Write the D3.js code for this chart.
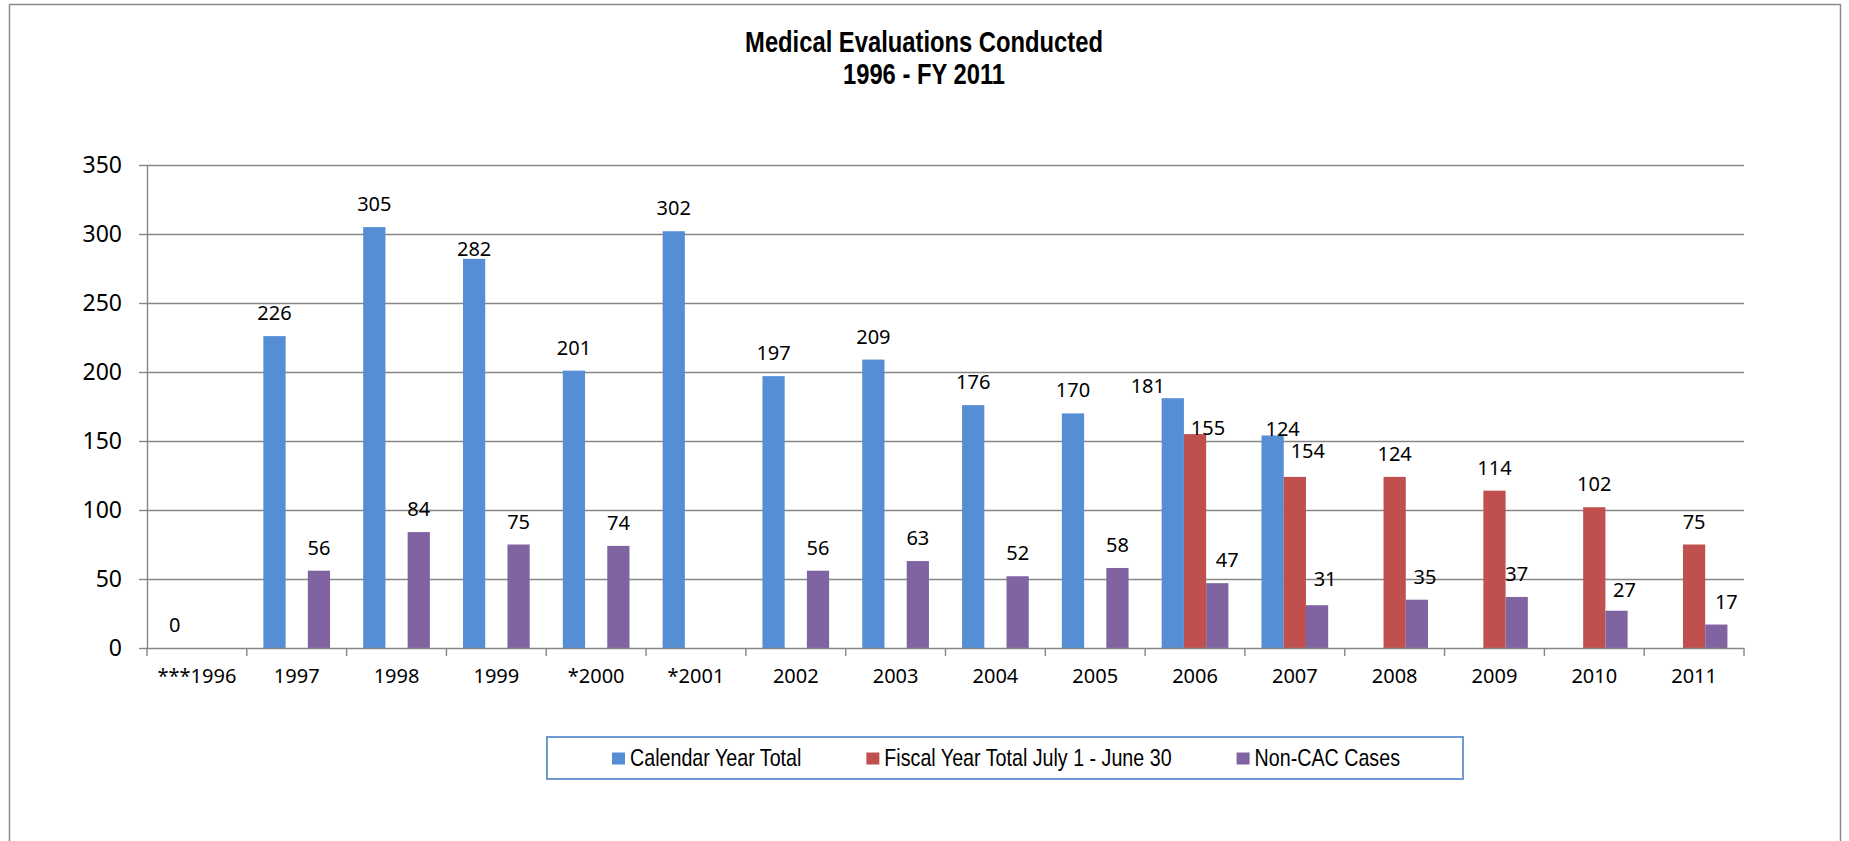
<!DOCTYPE html>
<html>
<head>
<meta charset="utf-8">
<script src="https://cdn.jsdelivr.net/npm/d3@7/dist/d3.min.js"></script>
<style>
  html, body { margin: 0; padding: 0; background: #ffffff; }
  svg { display: block; }
</style>
</head>
<body>
<svg id="chart" width="1849" height="841"></svg>
<script>
// ---------------- DATA ----------------
const categories = ["***1996", "1997", "1998", "1999", "*2000", "*2001", "2002", "2003",
                    "2004", "2005", "2006", "2007", "2008", "2009", "2010", "2011"];
const seriesNames = ["Calendar Year Total", "Fiscal Year Total July 1 - June 30", "Non-CAC Cases"];
const calendarYearTotal = [0, 226, 305, 282, 201, 302, 197, 209, 176, 170, 181, 154, null, null, null, null];
const fiscalYearTotal   = [null, null, null, null, null, null, null, null, null, null, 155, 124, 124, 114, 102, 75];
const nonCacCases       = [null, 56, 84, 75, 74, null, 56, 63, 52, 58, 47, 31, 35, 37, 27, 17];
const yTicks = [0, 50, 100, 150, 200, 250, 300, 350];
// data-label texts as printed on the original chart (2007 labels appear swapped there)
const labelTextOverrides = {
  "Calendar Year Total|2007": "124",
  "Fiscal Year Total July 1 - June 30|2007": "154"
};
const titleLines = ["Medical Evaluations Conducted", "1996 - FY 2011"];

// ---------------- STYLE ----------------
const colors = { "Calendar Year Total": "#558ED5", "Fiscal Year Total July 1 - June 30": "#C0504D", "Non-CAC Cases": "#8064A2" };
const gridColor = "#878787";
// manual label nudges seen in the original (dx, dy in px)
const labelNudges = {
  "Calendar Year Total|1999": [0, 13],
  "Calendar Year Total|2006": [-25, 11],
  "Fiscal Year Total July 1 - June 30|2006": [13, 17],
  "Calendar Year Total|2007": [10, 17],
  "Fiscal Year Total July 1 - June 30|2007": [13, -3],
  "Non-CAC Cases|2006": [10, 0],
  "Non-CAC Cases|2007": [8, -3],
  "Non-CAC Cases|2008": [8, 0],
  "Non-CAC Cases|2010": [8, 2],
  "Non-CAC Cases|2011": [10, 0]
};

const seriesValues = [calendarYearTotal, fiscalYearTotal, nonCacCases];
const records = [];
seriesNames.forEach((s, si) => {
  categories.forEach((c, ci) => {
    const v = seriesValues[si][ci];
    if (v !== null && v !== undefined) records.push({ series: s, cat: c, value: v });
  });
});

const svg = d3.select("#chart");

// outer chart border
svg.append("rect")
  .attr("x", 9.5).attr("y", 4.5).attr("width", 1831).attr("height", 900)
  .attr("fill", "#fff").attr("stroke", "#8a8a8a").attr("stroke-width", 1.5);

const plotL = 147, plotR = 1744, plotT = 165, plotB = 648;
const x0 = d3.scaleBand().domain(categories).range([plotL, plotR]).paddingInner(0).paddingOuter(0);
const x1 = d3.scaleBand().domain(seriesNames).range([0, x0.bandwidth()]).paddingInner(0).paddingOuter(0.745);
const y = d3.scaleLinear().domain([0, 350]).range([plotB, plotT]);

// narrow font helper (Arial Narrow ~ Arial scaled 0.82 horizontally)
const narrow = 0.82;

// title
const titleG = svg.append("g");
titleLines.forEach((t, i) => {
  titleG.append("text")
    .attr("transform", `translate(924,${i === 0 ? 52 : 84}) scale(${narrow},1)`)
    .attr("text-anchor", "middle")
    .attr("font-family", "'Liberation Sans', Arial, sans-serif")
    .attr("font-weight", "bold")
    .attr("font-size", 29)
    .attr("fill", "#000")
    .text(t);
});

// gridlines
svg.append("g").selectAll("line").data(yTicks.filter(d => d > 0)).join("line")
  .attr("x1", plotL).attr("x2", plotR)
  .attr("y1", d => Math.round(y(d)) + 0.5).attr("y2", d => Math.round(y(d)) + 0.5)
  .attr("stroke", gridColor).attr("stroke-width", 1.4);

// bars
svg.append("g").selectAll("rect").data(records).join("rect")
  .attr("x", d => x0(d.cat) + x1(d.series))
  .attr("y", d => y(d.value))
  .attr("width", x1.bandwidth())
  .attr("height", d => y(0) - y(d.value))
  .attr("fill", d => colors[d.series]);

// y axis
const yAxis = svg.append("g").attr("transform", `translate(${plotL},0)`)
  .call(d3.axisLeft(y).tickValues(yTicks).tickSize(8).tickSizeOuter(0).tickPadding(17));
yAxis.select(".domain").attr("stroke", gridColor).attr("stroke-width", 1.4);
yAxis.selectAll(".tick line").attr("stroke", gridColor).attr("stroke-width", 1.4);
yAxis.selectAll(".tick text")
  .attr("font-family", "'Noto Sans', sans-serif").attr("font-size", 23).attr("fill", "#000");

// x axis
const xAxis = svg.append("g").attr("transform", `translate(0,${plotB})`)
  .call(d3.axisBottom(x0).tickSize(0).tickSizeOuter(0).tickPadding(20.5));
xAxis.select(".domain").attr("stroke", gridColor).attr("stroke-width", 1.4);
xAxis.selectAll(".tick text")
  .attr("font-family", "'Noto Sans', sans-serif").attr("font-size", 20).attr("fill", "#000");
const boundaries = categories.map(c => x0(c)).concat([plotR]);
xAxis.append("g").selectAll("line").data(boundaries).join("line")
  .attr("x1", d => d).attr("x2", d => d).attr("y1", 0).attr("y2", 8)
  .attr("stroke", gridColor).attr("stroke-width", 1.4);

// data labels
svg.append("g").selectAll("text").data(records).join("text")
  .attr("x", d => {
    const n = labelNudges[d.series + "|" + d.cat] || [0, 0];
    return x0(d.cat) + x1(d.series) + x1.bandwidth() / 2 + n[0];
  })
  .attr("y", d => {
    const n = labelNudges[d.series + "|" + d.cat] || [0, 0];
    return y(d.value) - 16 + n[1];
  })
  .attr("text-anchor", "middle")
  .attr("font-family", "'Noto Sans', sans-serif")
  .attr("font-size", 20)
  .attr("fill", "#000")
  .text(d => labelTextOverrides[d.series + "|" + d.cat] || String(d.value));

// legend
const legBox = { x: 547, y: 737, w: 916, h: 42 };
svg.append("rect")
  .attr("x", legBox.x).attr("y", legBox.y).attr("width", legBox.w).attr("height", legBox.h)
  .attr("fill", "#fff").attr("stroke", "#5f8fcc").attr("stroke-width", 1.8);
const legG = svg.append("g");
let cursor = 612;
seriesNames.forEach(s => {
  legG.append("rect")
    .attr("x", cursor).attr("y", 752.5).attr("width", 13).attr("height", 12)
    .attr("fill", colors[s]);
  const t = legG.append("text")
    .attr("transform", `translate(${cursor + 18},765.5) scale(${narrow},1)`)
    .attr("font-family", "'Liberation Sans', Arial, sans-serif")
    .attr("font-size", 24)
    .attr("fill", "#000")
    .text(s);
  const w = t.node().getComputedTextLength() * narrow;
  cursor = cursor + 18 + w + 65;
});
</script>
</body>
</html>
